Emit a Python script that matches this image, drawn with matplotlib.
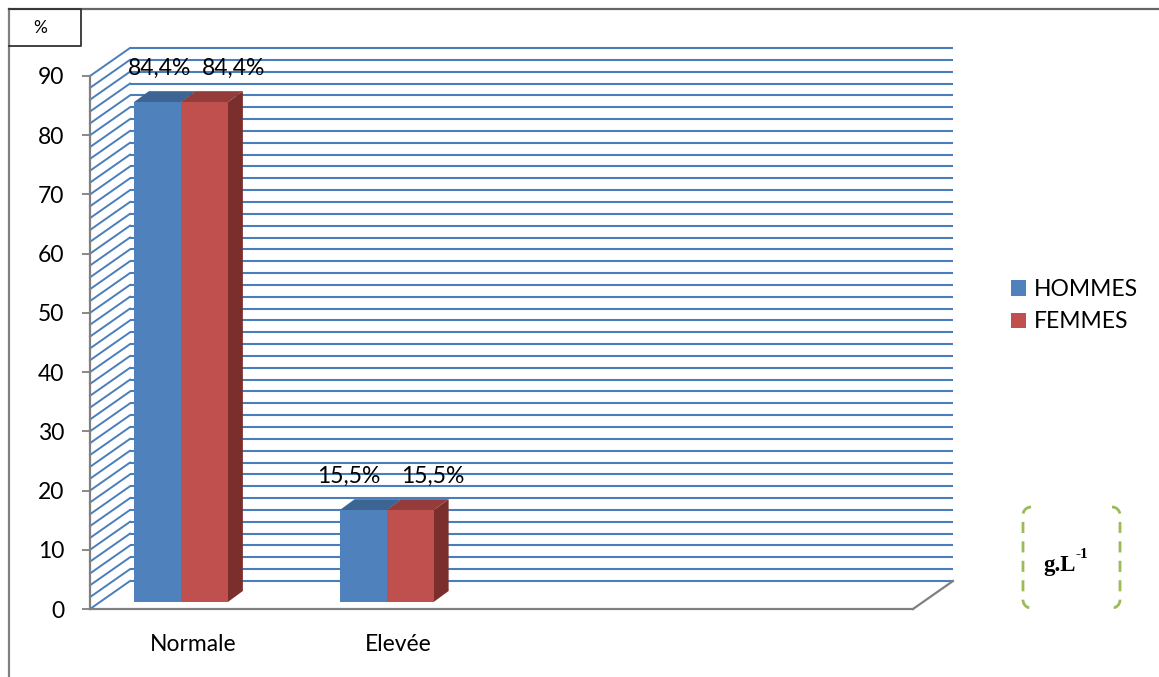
import matplotlib
matplotlib.use("Agg")
import matplotlib.pyplot as plt
from matplotlib.transforms import offset_copy
import numpy as np

# ---- data ----
categories = ["Normale", "Elevée"]
series_names = ["HOMMES", "FEMMES"]
hommes = [84.4, 15.5]
femmes = [84.4, 15.5]
value_labels_h = ["84,4%", "15,5%"]
value_labels_f = ["84,4%", "15,5%"]
y_ticks = list(range(0, 91, 10))

# ---- style ----
W, H = 1159, 677
DPI = 100
FONT = "Lato"
FS = 16.5
front_cols = ["#4f81bd", "#c0504d"]
top_cols = ["#3d6594", "#943c3a"]
side_cols = ["#3a5f8b", "#7b2f2d"]
grid_col = "#4a7ebb"
axis_col = "#808080"

plt.rcParams["font.family"] = [FONT, "DejaVu Sans"]

fig = plt.figure(figsize=(W / DPI, H / DPI), dpi=DPI)

# front plane of the 3-D box: x from 90 px to 913 px, y=0 at 609 px, y=90 at 76 px
L, R, B, T_ = 90, 913, 609, 76
ax = fig.add_axes([L / W, (H - B) / H, (R - L) / W, (B - T_) / H])
ax.set_xlim(-0.5, 3.5)
ax.set_ylim(0, 90)
ax.patch.set_visible(False)

px_x = (R - L) / 4.0          # pixels per x unit
px_y = (B - T_) / 90.0        # pixels per y unit

# wall depth (back wall offset)
DX = 40 / px_x
DY = 28 / px_y
x0, x1 = -0.5, 3.5

# back wall and side wall gridlines every 2 units
for v in range(0, 91, 2):
    ax.plot([x0 + DX, x1 + DX], [v + DY, v + DY], color=grid_col, lw=1.5,
            solid_capstyle="butt", clip_on=False, zorder=1)
    ax.plot([x0, x0 + DX], [v, v + DY], color=grid_col, lw=1.4,
            clip_on=False, zorder=1)

# floor outline (right side)
ax.plot([x1, x1 + DX], [0, DY], color=axis_col, lw=1.6, clip_on=False, zorder=2)

# axes spines / ticks
for s in ["top", "right"]:
    ax.spines[s].set_visible(False)
for s in ["left", "bottom"]:
    ax.spines[s].set_color(axis_col)
    ax.spines[s].set_linewidth(1.6)
ax.set_yticks(y_ticks)
ax.set_yticklabels([str(t) for t in y_ticks], fontsize=FS)
ax.tick_params(axis="y", length=5.5, width=1.3, color=axis_col, pad=13)
xpos = np.arange(len(categories))
ax.set_xticks(xpos)
ax.set_xticklabels(categories, fontsize=FS)
ax.tick_params(axis="x", length=0, pad=18)

# bars sit inside the box: shifted back from the front plane
bar_T = offset_copy(ax.transData, fig=fig, x=-12, y=7, units="dots")
bw = 47 / px_x
bdx = 15 / px_x
bdy = 11 / px_y

def draw_bar(xl, h, k):
    xr = xl + bw
    ax.fill([xr, xr + bdx, xr + bdx, xr], [0, bdy, h + bdy, h],
            color=side_cols[k], lw=0, transform=bar_T, zorder=3 + k * 3)
    ax.fill([xl, xr, xr + bdx, xl + bdx], [h, h, h + bdy, h + bdy],
            color=top_cols[k], lw=0, transform=bar_T, zorder=4 + k * 3)

containers = []
for k, vals in enumerate([hommes, femmes]):
    lefts = xpos - bw + k * bw
    for xl, h in zip(lefts, vals):
        draw_bar(xl, h, k)
    bc = ax.bar(lefts, vals, width=bw, align="edge", color=front_cols[k],
                lw=0, transform=bar_T, zorder=5 + k * 3, label=series_names[k])
    containers.append(bc)

# value labels
nudges = [[2, -14], [29, 23]]
for k, (vals, labs) in enumerate([(hommes, value_labels_h), (femmes, value_labels_f)]):
    for i, (h, lab) in enumerate(zip(vals, labs)):
        xc = xpos[i] - bw + k * bw + bw / 2
        ax.annotate(lab, xy=(xc, h), xycoords=bar_T,
                    xytext=(nudges[k][i], 34), textcoords="offset pixels",
                    ha="center", va="center", fontsize=FS, zorder=10)

# legend
fig.legend(handles=containers, labels=series_names, loc="upper left",
           bbox_to_anchor=(1011 / W, 1 - 279 / H), frameon=False,
           fontsize=FS, handlelength=0.66, handleheight=0.66,
           handletextpad=0.32, labelspacing=0.5, borderpad=0,
           borderaxespad=0)

# decorations in pixel space
ov = fig.add_axes([0, 0, 1, 1], zorder=-1)
ov.set_xlim(0, W)
ov.set_ylim(H, 0)
ov.axis("off")
ov.plot([9, W], [9, 9], color="#666666", lw=1.6)
ov.plot([9, 9], [9, H], color="#808080", lw=1.6)
ov.plot([9, 81, 81, 9], [46, 46, 9, 9], color="#333333", lw=1.3)
ov.text(40, 28, "%", ha="center", va="center", fontsize=12.5)

# unit bracket box
def bracket(xs, sign):
    t = np.linspace(0, 1, 12)
    top_x = xs + sign * 8 * (1 - np.sin(t * np.pi / 2))
    top_y = 507 + 8 * (1 - np.cos(t * np.pi / 2))
    bot_y = 608 - 8 * (1 - np.cos(t * np.pi / 2))
    xsx = np.concatenate([top_x, [xs, xs], top_x[::-1]])
    ysy = np.concatenate([top_y, [515, 600], bot_y[::-1]])
    ov.plot(xsx, ysy, color="#9bbb59", lw=2, ls=(0, (4, 3)))

bracket(1023, 1)
bracket(1120, -1)
ov.text(1043, 571, "g.L", fontsize=16.5, fontweight="bold",
        family="Liberation Serif", va="baseline")
ov.text(1075, 558, "-1", fontsize=11, fontweight="bold",
        family="Liberation Serif", va="baseline")

fig.savefig("out.png", dpi=DPI)
